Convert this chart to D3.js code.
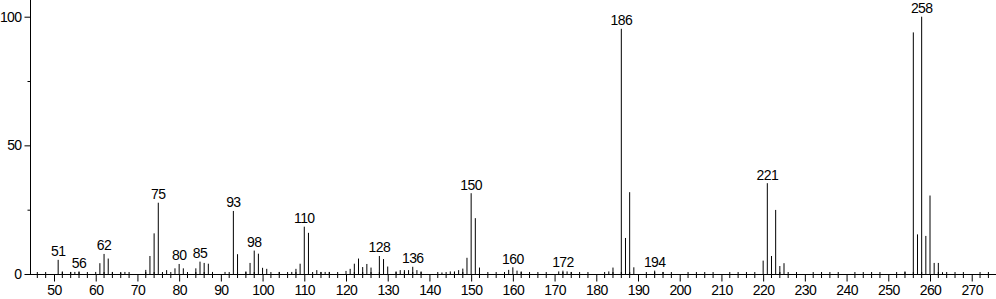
<!DOCTYPE html>
<html>
<head>
<meta charset="utf-8">
<script src="https://cdn.jsdelivr.net/npm/d3@7"></script>
<style>
  html, body { margin: 0; padding: 0; background: #fff; }
  svg { display: block; font-family: "Liberation Sans", Arial, sans-serif; }
  text { letter-spacing: -0.6px; }
</style>
</head>
<body>
<svg id="chart" width="996" height="299"></svg>
<script>
// m/z values of the peaks
const masses = [51, 52, 54, 55, 56, 60, 61, 62, 63, 64, 66, 67, 72, 73, 74, 75, 77, 79, 80, 81,
  84, 85, 86, 87, 88, 91, 93, 94, 96, 97, 98, 99, 100, 101, 104, 107, 108, 109, 110, 111,
  113, 114, 115, 116, 120, 121, 122, 123, 124, 125, 126, 128, 129, 130, 132, 133, 134, 135, 136, 137,
  138, 143, 145, 146, 147, 148, 149, 150, 151, 152, 159, 160, 161, 162, 171, 172, 173, 174, 183, 184,
  186, 187, 188, 189, 194, 196, 220, 221, 222, 223, 224, 225, 254, 256, 257, 258, 259, 260, 261, 262, 263];

// relative intensities (%)
const intensities = [5.5, 1.0, 0.8, 0.8, 1.0, 0.8, 4.2, 7.8, 6.0, 0.8, 0.5, 0.8, 1.6, 7.0, 15.8, 27.7, 1.5, 2.2, 3.9, 2.2,
  2.2, 4.8, 4.3, 4.0, 0.8, 0.8, 24.5, 7.7, 1.0, 4.3, 9.1, 7.9, 2.4, 2.0, 0.8, 0.8, 2.0, 4.0, 18.4, 16.0,
  1.5, 0.8, 0.8, 0.8, 1.2, 2.0, 4.0, 6.0, 2.7, 3.9, 2.5, 7.0, 5.8, 2.9, 1.0, 1.5, 1.5, 1.5, 2.8, 1.5,
  1.0, 0.6, 1.0, 1.0, 1.5, 2.1, 6.3, 31.4, 21.7, 2.5, 1.6, 2.6, 1.3, 1.0, 1.0, 1.3, 1.0, 0.8, 1.0, 2.5,
  95.3, 14.0, 31.8, 2.6, 1.3, 0.8, 5.2, 35.3, 7.0, 24.9, 3.1, 4.2, 1.0, 93.9, 15.4, 100, 14.8, 30.5, 4.3, 4.3, 0.7];

// peaks carrying a label
const labeledMasses = [51, 56, 62, 75, 80, 85, 93, 98, 110, 128, 136, 150, 160, 172, 186, 194, 221, 258];

// axis ticks
const xMajorTicks = d3.range(50, 271, 10);
const xMinorTicks = d3.range(46, 277, 2).filter(d => d % 10 !== 0);
const yMajorTicks = [0, 50, 100];
const yMinorTicks = [25, 75];

const peaks = masses.map((m, i) => ({ m: m, v: intensities[i] }));

const svg = d3.select('#chart');
const baseY = 274;

const x = d3.scaleLinear().domain([50, 260]).range([54, 930]);
const y = d3.scaleLinear().domain([0, 100]).range([baseY, 16.7]);

// x axis
svg.append('line')
  .attr('x1', 30).attr('x2', 996)
  .attr('y1', baseY + 0.5).attr('y2', baseY + 0.5)
  .attr('stroke', '#000').attr('stroke-width', 1);

svg.selectAll('.x-minor')
  .data(xMinorTicks)
  .enter()
  .append('line')
  .attr('class', 'x-minor')
  .attr('x1', d => x(d)).attr('x2', d => x(d))
  .attr('y1', baseY - 2).attr('y2', baseY + 4)
  .attr('stroke', '#000').attr('stroke-width', 1);

const xAxis = svg.append('g')
  .attr('transform', `translate(0,${baseY + 0.5})`)
  .call(d3.axisBottom(x).tickValues(xMajorTicks).tickSize(7).tickPadding(4));
xAxis.select('.domain').remove();
xAxis.selectAll('text').attr('font-size', 14).attr('font-family', 'Liberation Sans, Arial, sans-serif').attr('fill', '#000');

// y axis
svg.append('line')
  .attr('x1', 30.5).attr('x2', 30.5)
  .attr('y1', 0).attr('y2', baseY + 1)
  .attr('stroke', '#000').attr('stroke-width', 1);

const yAxis = svg.append('g')
  .attr('transform', 'translate(30.5,0)')
  .call(d3.axisLeft(y).tickValues(yMajorTicks).tickSize(6).tickPadding(3));
yAxis.select('.domain').remove();
yAxis.selectAll('text').attr('font-size', 14).attr('font-family', 'Liberation Sans, Arial, sans-serif').attr('fill', '#000');

const yMinor = svg.append('g')
  .attr('transform', 'translate(30.5,0)')
  .call(d3.axisLeft(y).tickValues(yMinorTicks).tickSize(3).tickFormat(''));
yMinor.select('.domain').remove();

// peaks
svg.selectAll('.peak')
  .data(peaks)
  .enter()
  .append('line')
  .attr('class', 'peak')
  .attr('x1', d => x(d.m)).attr('x2', d => x(d.m))
  .attr('y1', y(0)).attr('y2', d => y(d.v))
  .attr('stroke', '#000').attr('stroke-width', 1);

// peak labels
svg.selectAll('.peak-label')
  .data(peaks.filter(d => labeledMasses.includes(d.m)))
  .enter()
  .append('text')
  .attr('class', 'peak-label')
  .attr('x', d => x(d.m))
  .attr('y', d => y(d.v) - 3.5)
  .attr('text-anchor', 'middle')
  .attr('font-size', 14)
  .attr('fill', '#000')
  .text(d => d.m);
</script>
</body>
</html>
